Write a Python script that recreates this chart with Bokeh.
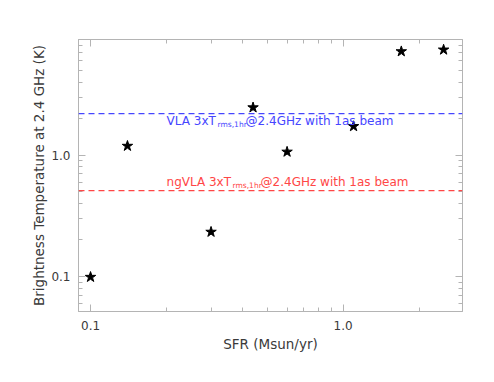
from bokeh.plotting import figure
from bokeh.models import LogAxis, FixedTicker, PrintfTickFormatter, Span, Range1d
from bokeh.core.properties import value
from bokeh.embed import file_html
from bokeh.resources import INLINE

# ---- data ----
sfr = [0.1, 0.14, 0.30, 0.44, 0.60, 1.1, 1.7, 2.5]
tb = [0.099, 1.19, 0.233, 2.47, 1.065, 1.73, 7.16, 7.39]
vla_limit = 2.2
ngvla_limit = 0.51
x_major = [0.1, 1.0]
x_minor = [0.09, 0.2, 0.3, 0.4, 0.5, 0.6, 0.7, 0.8, 0.9, 2.0]
y_major = [0.1, 1.0]
y_minor = [0.06, 0.07, 0.08, 0.09, 0.2, 0.3, 0.4, 0.5, 0.6, 0.7, 0.8, 0.9,
           2.0, 3.0, 4.0, 5.0, 6.0, 7.0, 8.0, 9.0]
vla_text = ["VLA 3xT", "rms,1hr", "@2.4GHz with 1as beam"]
ngvla_text = ["ngVLA 3xT", "rms,1hr", "@2.4GHz with 1as beam"]
label_x = 0.2
vla_label_y = 1.9
ngvla_label_y = 0.6

FONT = "DejaVu Sans"
GREY = "#b4b4b4"
TXT = "#3a3a3a"
BLUE = "#4646ff"
RED = "#ff4646"

p = figure(x_axis_type="log", y_axis_type="log",
           x_range=Range1d(0.0896, 2.97), y_range=Range1d(0.0515, 8.98),
           frame_width=384, frame_height=272,
           min_border_left=78, min_border_right=24, min_border_top=39, min_border_bottom=62,
           output_backend="svg", toolbar_location=None)
p.xgrid.visible = False
p.ygrid.visible = False
p.outline_line_color = GREY
p.background_fill_color = "white"
p.border_fill_color = "white"


def style_axis(ax, major, minor, show_labels):
    ax.ticker = FixedTicker(ticks=major, minor_ticks=minor)
    ax.axis_line_color = GREY
    ax.major_tick_line_color = GREY
    ax.minor_tick_line_color = GREY
    ax.major_tick_in = 7
    ax.major_tick_out = 0
    ax.minor_tick_in = 4
    ax.minor_tick_out = 0
    if show_labels:
        ax.formatter = PrintfTickFormatter(format="%.1f")
        ax.major_label_text_font = FONT
        ax.major_label_text_font_size = "12px"
        ax.major_label_text_color = TXT
        ax.axis_label_text_font = FONT
        ax.axis_label_text_font_size = "13.5px"
        ax.axis_label_text_font_style = "normal"
        ax.axis_label_text_color = TXT
    else:
        ax.major_label_overrides = {t: "" for t in major}


style_axis(p.xaxis[0], x_major, x_minor, True)
style_axis(p.yaxis[0], y_major, y_minor, True)
p.xaxis[0].axis_label = "SFR (Msun/yr)"
p.yaxis[0].axis_label = "Brightness Temperature at 2.4 GHz (K)"
p.xaxis[0].major_label_standoff = 9
p.xaxis[0].axis_label_standoff = 3
p.yaxis[0].major_label_standoff = 8
p.yaxis[0].axis_label_standoff = 1

top = LogAxis()
right = LogAxis()
style_axis(top, x_major, x_minor, False)
style_axis(right, y_major, y_minor, False)
p.add_layout(top, "above")
p.add_layout(right, "right")

p.add_layout(Span(location=vla_limit, dimension="width", line_color=BLUE,
                  line_dash="6 4", line_width=1.2))
p.add_layout(Span(location=ngvla_limit, dimension="width", line_color=RED,
                  line_dash="6 4", line_width=1.2))

p.scatter(sfr, tb, marker="star", size=11, color="black")


def draw_label(parts, y, color, w0):
    common = dict(text_color=color, text_font=value(FONT), text_align="left",
                  text_baseline="alphabetic")
    p.text(x=[label_x], y=[y], text=[parts[0]], text_font_size="12px", **common)
    p.text(x=[label_x], y=[y], text=[parts[1]], text_font_size="7.5px",
           x_offset=w0 + 1, y_offset=3, **common)
    p.text(x=[label_x], y=[y], text=[parts[2]], text_font_size="12px",
           x_offset=w0 + 29, **common)


draw_label(vla_text, vla_label_y, BLUE, 50)
draw_label(ngvla_text, ngvla_label_y, RED, 65)

open("out.html", "w").write(file_html(p, INLINE))
